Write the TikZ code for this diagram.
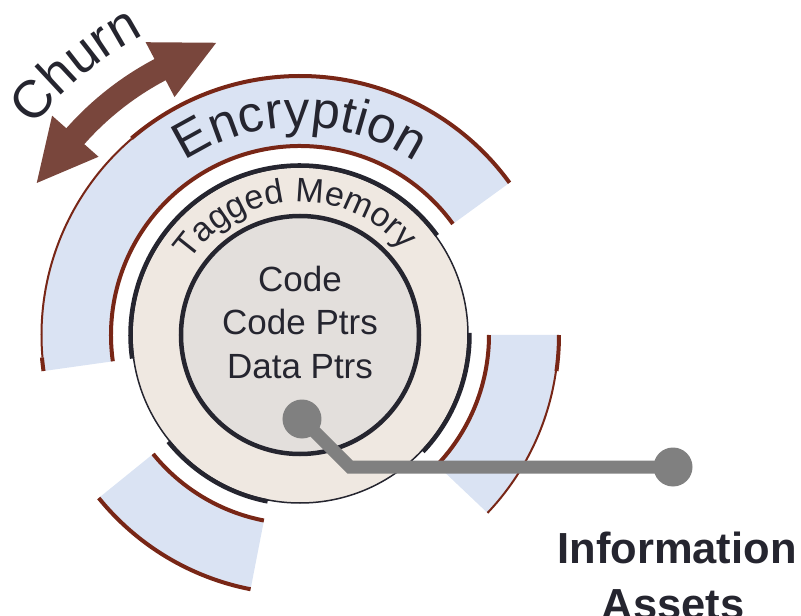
\documentclass[tikz,border=0pt]{standalone}
\usepackage{fontspec}
\setmainfont{Liberation Sans}
\usetikzlibrary{decorations.text}

\definecolor{ink}{RGB}{37,37,47}
\definecolor{ringblue}{RGB}{218,227,243}
\definecolor{rust}{RGB}{120,38,22}
\definecolor{tagfill}{RGB}{239,232,225}
\definecolor{corefill}{RGB}{227,223,220}
\definecolor{churncol}{RGB}{121,70,60}
\definecolor{wire}{RGB}{128,128,128}

\tikzset{
  rustline/.style={draw=rust, line width=4pt},
  rustthin/.style={draw=rust, line width=2pt},
  ringedge/.style={draw=ink, line width=4.5pt},
  coretext/.style={text=ink, font=\fontsize{35}{42}\selectfont, inner sep=0pt, anchor=base},
  infotext/.style={text=ink, font=\fontsize{43.5}{52}\selectfont\bfseries, inner sep=0pt, anchor=base},
  wiredot/.style={circle, fill=wire, minimum size=39pt, inner sep=0pt},
  wireline/.style={draw=wire, line width=13pt, line join=miter},
}

% one encryption sector: filled band between r=189 and r=259, with its inner rim
\newcommand\encsector[2]{%
  \fill[ringblue] (#1:189) arc[start angle=#1, end angle=#2, radius=189]
    -- (#2:259) arc[start angle=#2, end angle=#1, radius=259] -- cycle;
  \draw[rustline] (#1:189) arc[start angle=#1, end angle=#2, radius=189];}

% thick rim piece on the tagged-memory ring
\newcommand\tagrim[2]{%
  \draw[ringedge] (#1:169.5) arc[start angle=#1, end angle=#2, radius=169.5];}

\begin{document}
\begin{tikzpicture}[x=1pt, y=1pt]
\useasboundingbox (-300,-281) rectangle (501,335);

% ---- encryption sectors ----
\encsector{36}{188}
\encsector{-43.5}{0}
\encsector{219}{259}
% outer rims
\draw[rustline] (36:259) arc[start angle=36, end angle=130.6, radius=259];
\draw[rustthin] (130.6:258.5) arc[start angle=130.6, end angle=185, radius=258.5];
\draw[rustline] (185:259) arc[start angle=185, end angle=188, radius=259];
\draw[rustline] (0:259) arc[start angle=0, end angle=-8, radius=259];
\draw[rustthin] (-8:258.5) arc[start angle=-8, end angle=-43.5, radius=258.5];
\draw[rustline] (219:259) arc[start angle=219, end angle=259, radius=259];

% ---- tagged memory ring ----
\fill[tagfill] (0,0) circle[radius=168];
\draw[ink, line width=1.5pt] (0,0) circle[radius=168];
\tagrim{36}{188}
\tagrim{-43.5}{0.7}
\tagrim{219}{259}

% ---- core ----
\fill[corefill] (0,0) circle[radius=119];
\draw[ringedge] (0,0) circle[radius=119];

\node[coretext] (code) at (0,43) {Code};
\node[coretext] (codeptrs) at (0,0) {Code Ptrs};
\node[coretext] (dataptrs) at (0,-44) {Data Ptrs};

% ---- curved ring labels ----
\path[decorate, decoration={text along path,
    text={|\fontsize{51}{51}\selectfont\color{ink}|Encryption},
    text align={fit to path}}]
  (123.5:208) arc[start angle=123.5, end angle=56.5, radius=208];
\path[decorate, decoration={text along path,
    text={|\fontsize{34}{34}\selectfont\color{ink}|Tagged Memory},
    text align={fit to path}}]
  (146:133) arc[start angle=146, end angle=40, radius=133];

% ---- churn arrow ----
\fill[churncol] (150:304) -- (138.5:331) -- (138.5:312)
  arc[start angle=138.5, end angle=117.8, radius=312]
  -- (117.8:331) -- (106:304) -- (117.8:269) -- (117.8:288)
  arc[start angle=117.8, end angle=138.5, radius=288]
  -- (138.5:269) -- cycle;
\path[decorate, decoration={text along path,
    text={|\fontsize{53}{53}\selectfont\color{ink}|Churn},
    text align={fit to path}}]
  (142:338) arc[start angle=142, end angle=117.5, radius=338];

% ---- information assets connector ----
\node[wiredot] (asset) at (2,-84) {};
\node[wiredot] (target) at (373,-132) {};
\coordinate (bend) at (50,-132);
\draw[wireline] (asset.center) -- (bend) -- (target.center);

\node[infotext] (infoA) at (377,-228) {Information};
\node[infotext] (infoB) at (373,-284) {Assets};
\end{tikzpicture}
\end{document}
